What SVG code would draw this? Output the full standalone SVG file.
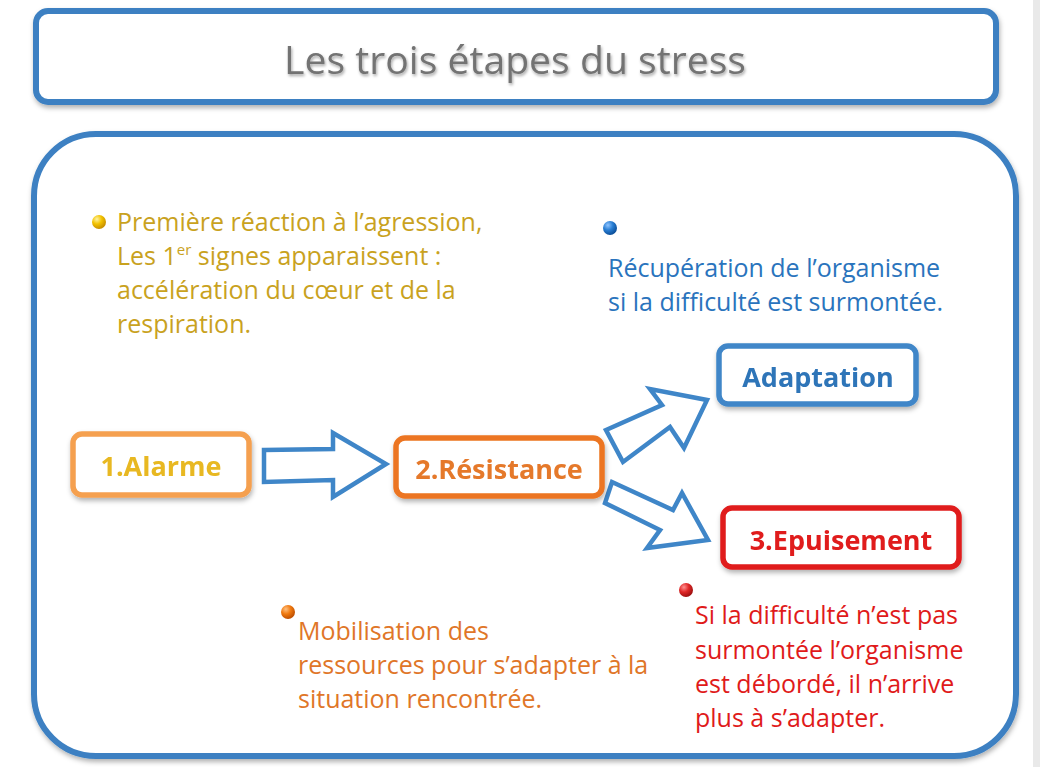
<svg xmlns="http://www.w3.org/2000/svg" width="1040" height="767" viewBox="0 0 1040 767">
  <defs>
    <filter id="sh" x="-10%" y="-10%" width="130%" height="140%">
      <feDropShadow dx="1" dy="3" stdDeviation="2.5" flood-color="#000" flood-opacity="0.3"/>
    </filter>
    <filter id="tsh" x="-10%" y="-20%" width="120%" height="160%">
      <feDropShadow dx="1" dy="2" stdDeviation="1.5" flood-color="#000" flood-opacity="0.35"/>
    </filter>
    <radialGradient id="gy" cx="0.35" cy="0.3" r="0.7">
      <stop offset="0" stop-color="#fff3a0"/>
      <stop offset="0.5" stop-color="#f2c200"/>
      <stop offset="1" stop-color="#c89000"/>
    </radialGradient>
    <radialGradient id="gb" cx="0.35" cy="0.3" r="0.7">
      <stop offset="0" stop-color="#8fc4ff"/>
      <stop offset="0.5" stop-color="#2a7fd4"/>
      <stop offset="1" stop-color="#0c4f9a"/>
    </radialGradient>
    <radialGradient id="go" cx="0.35" cy="0.3" r="0.7">
      <stop offset="0" stop-color="#ffc080"/>
      <stop offset="0.5" stop-color="#f07a10"/>
      <stop offset="1" stop-color="#c05000"/>
    </radialGradient>
    <radialGradient id="gr" cx="0.35" cy="0.3" r="0.7">
      <stop offset="0" stop-color="#ff9090"/>
      <stop offset="0.5" stop-color="#e02828"/>
      <stop offset="1" stop-color="#a01010"/>
    </radialGradient>
  </defs>
  <style>
    .frame { fill: #ffffff; stroke: #3d80c2; stroke-width: 6; }
    .box { fill: #ffffff; stroke-width: 5.5; }
    .lbl { font-family: "Open Sans", "Liberation Sans", sans-serif; font-weight: bold; text-anchor: middle; }
    .txt { font-family: "Open Sans", "Liberation Sans", sans-serif; font-size: 25px; }
    .arrow { fill: #ffffff; stroke: #3f86c8; stroke-width: 4.5; stroke-linejoin: miter; }
  </style>
  <rect width="1040" height="767" fill="#ffffff"/>
  <rect x="1033" y="0" width="7" height="767" fill="#e9e9e9"/>

  <g id="title" filter="url(#sh)">
    <rect class="frame" x="36" y="11" width="960" height="91" rx="12"/>
    <text x="515" y="74" font-family="Open Sans, Liberation Sans, sans-serif" font-size="38" fill="#737373" text-anchor="middle" textLength="462" lengthAdjust="spacingAndGlyphs" filter="url(#tsh)">Les trois étapes du stress</text>
  </g>

  <g id="panel" filter="url(#sh)">
    <rect class="frame" x="34" y="134" width="982" height="622" rx="62"/>
  </g>

  <g id="connectors">
    <polygon class="arrow" points="264,450 333,449 333,433 386,464 333,497 333,480 264,482"/>
    <polygon class="arrow" points="606,430 662,405 650,389 707,400 684,448 670,427 623,462"/>
    <polygon class="arrow" points="612,482 673,510 682,493 708,540 647,548 660,530 605,503"/>
  </g>

  <g id="alarme" filter="url(#sh)">
    <rect class="box" x="73" y="434" width="176" height="61" rx="9" stroke="#f5a050"/>
    <text class="lbl" x="161" y="476" font-size="27" fill="#e8b820">1.Alarme</text>
  </g>

  <g id="resistance" filter="url(#sh)">
    <rect class="box" x="396" y="438" width="206" height="58" rx="9" stroke="#ec7520"/>
    <text class="lbl" x="499" y="479" font-size="27" fill="#e5792c">2.Résistance</text>
  </g>

  <g id="adaptation" filter="url(#sh)">
    <rect class="box" x="719" y="346" width="197" height="58" rx="9" stroke="#3f86c8"/>
    <text class="lbl" x="818" y="387" font-size="27" fill="#2f74b8">Adaptation</text>
  </g>

  <g id="epuisement" filter="url(#sh)">
    <rect class="box" x="723" y="508" width="236" height="59" rx="9" stroke="#e01a1a"/>
    <text class="lbl" x="841" y="550" font-size="27" fill="#e01a1a">3.Epuisement</text>
  </g>

  <g id="note-alarme">
    <circle cx="99" cy="222" r="7" fill="url(#gy)"/>
    <text class="txt" fill="#c9a21e">
      <tspan x="117" y="231">Première réaction à l’agression,</tspan>
      <tspan x="117" y="265">Les 1<tspan font-size="15" dy="-10">er</tspan><tspan dy="10"> signes apparaissent :</tspan></tspan>
      <tspan x="117" y="299">accélération du cœur et de la</tspan>
      <tspan x="117" y="333">respiration.</tspan>
    </text>
  </g>

  <g id="note-adaptation">
    <circle cx="610" cy="228" r="7" fill="url(#gb)"/>
    <text class="txt" fill="#2a74bd">
      <tspan x="608" y="277">Récupération de l’organisme</tspan>
      <tspan x="608" y="311">si la difficulté est surmontée.</tspan>
    </text>
  </g>

  <g id="note-resistance">
    <circle cx="288" cy="612" r="7" fill="url(#go)"/>
    <text class="txt" fill="#e07628">
      <tspan x="298" y="640">Mobilisation des</tspan>
      <tspan x="298" y="674">ressources pour s’adapter à la</tspan>
      <tspan x="298" y="708">situation rencontrée.</tspan>
    </text>
  </g>

  <g id="note-epuisement">
    <circle cx="686" cy="590" r="7" fill="url(#gr)"/>
    <text class="txt" fill="#e01a1a">
      <tspan x="695" y="624">Si la difficulté n’est pas</tspan>
      <tspan x="695" y="659">surmontée l’organisme</tspan>
      <tspan x="695" y="693">est débordé, il n’arrive</tspan>
      <tspan x="695" y="727">plus à s’adapter.</tspan>
    </text>
  </g>
</svg>
